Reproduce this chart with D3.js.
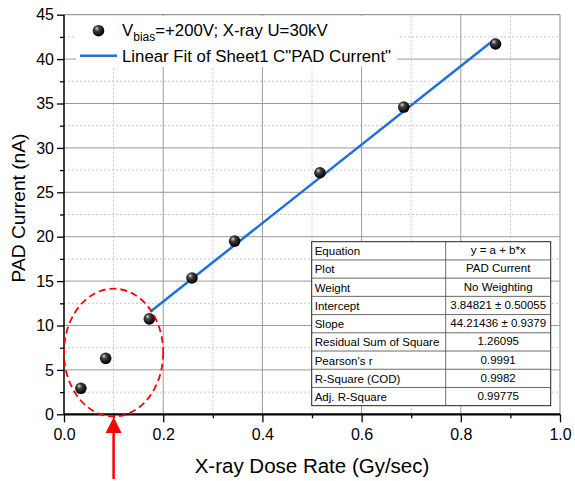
<!DOCTYPE html>
<html>
<head>
<meta charset="utf-8">
<script src="https://cdn.jsdelivr.net/npm/d3@7"></script>
<style>
  body { margin: 0; background: #fff; }
  text { font-family: "Liberation Sans", Arial, sans-serif; }
</style>
</head>
<body>
<div id="chart-area"></div>
<script>
// measured points
var doseRate = [0.034, 0.084, 0.172, 0.258, 0.344, 0.516, 0.685, 0.870]
var padCurrent = [2.93, 6.3, 10.75, 15.35, 19.5, 27.2, 34.6, 41.7]

// linear fit
var fitA = 3.84821
var fitB = 44.21436
var fitRange = [0.174, 0.869]

var xMajor = [0, 0.2, 0.4, 0.6, 0.8, 1.0]
var xMinor = [0.1, 0.3, 0.5, 0.7, 0.9]
var yMajor = [0, 5, 10, 15, 20, 25, 30, 35, 40, 45]
var yMinor = [2.5, 7.5, 12.5, 17.5, 22.5, 27.5, 32.5, 37.5, 42.5]

var tableLabels = ["Equation", "Plot", "Weight", "Intercept", "Slope",
  "Residual Sum of Square", "Pearson's r", "R-Square (COD)", "Adj. R-Square"]
var tableValues = ["y = a + b*x", "PAD Current", "No Weighting", "3.84821 \u00b1 0.50055",
  "44.21436 \u00b1 0.9379", "1.26095", "0.9991", "0.9982", "0.99775"]

var canvasWidth = 575
var canvasHeight = 481
var margin = {top: 14.7, bottom: 66.7, left: 64, right: 15}

var svg = d3.select("#chart-area")
	.append("svg")
	.attr("width", canvasWidth)
	.attr("height", canvasHeight)

var x = d3.scaleLinear()
	.domain([0, 1])
	.range([margin.left, canvasWidth - margin.right])

var y = d3.scaleLinear()
	.domain([0, 45])
	.range([canvasHeight - margin.bottom, margin.top])

// grid
var grid = svg.append("g")
grid.selectAll("line.xminor")
	.data(xMinor)
	.enter().append("line")
		.attr("x1", function(d){ return x(d) })
		.attr("x2", function(d){ return x(d) })
		.attr("y1", y(0)).attr("y2", y(45))
		.attr("stroke", "#c8c8c8")
		.attr("stroke-dasharray", "2,2")
grid.selectAll("line.yminor")
	.data(yMinor)
	.enter().append("line")
		.attr("y1", function(d){ return y(d) })
		.attr("y2", function(d){ return y(d) })
		.attr("x1", x(0)).attr("x2", x(1))
		.attr("stroke", "#c8c8c8")
		.attr("stroke-dasharray", "2,2")
grid.selectAll("line.xmajor")
	.data(xMajor.slice(1, 5))
	.enter().append("line")
		.attr("x1", function(d){ return x(d) })
		.attr("x2", function(d){ return x(d) })
		.attr("y1", y(0)).attr("y2", y(45))
		.attr("stroke", "#9a9a9a")
grid.selectAll("line.ymajor")
	.data(yMajor.slice(1, 9))
	.enter().append("line")
		.attr("y1", function(d){ return y(d) })
		.attr("y2", function(d){ return y(d) })
		.attr("x1", x(0)).attr("x2", x(1))
		.attr("stroke", "#9a9a9a")

// frame top/right
svg.append("line")
	.attr("x1", x(0)).attr("x2", x(1))
	.attr("y1", y(45)).attr("y2", y(45))
	.attr("stroke", "#9a9a9a").attr("stroke-width", 1.2)
svg.append("line")
	.attr("x1", x(1)).attr("x2", x(1))
	.attr("y1", y(0)).attr("y2", y(45))
	.attr("stroke", "#9a9a9a").attr("stroke-width", 1.2)

// legend background
svg.append("rect")
	.attr("x", 76).attr("y", 16)
	.attr("width", 321).attr("height", 51)
	.attr("fill", "#fff")

// axes
var xAxis = svg.append("g")
	.attr("transform", "translate(0," + y(0) + ")")
	.call(d3.axisBottom(x).tickValues(xMajor).tickSize(8).tickPadding(6)
		.tickFormat(d3.format(".1f")))
svg.append("g")
	.attr("transform", "translate(0," + y(0) + ")")
	.call(d3.axisBottom(x).tickValues(xMinor).tickSize(4).tickFormat(""))
	.select(".domain").remove()

var yAxis = svg.append("g")
	.attr("transform", "translate(" + x(0) + ",0)")
	.call(d3.axisLeft(y).tickValues(yMajor).tickSize(7).tickPadding(3))
svg.append("g")
	.attr("transform", "translate(" + x(0) + ",0)")
	.call(d3.axisLeft(y).tickValues(yMinor).tickSize(4).tickFormat(""))
	.select(".domain").remove()

svg.selectAll(".tick text")
	.attr("font-family", "Liberation Sans, Arial, sans-serif")
	.attr("font-size", "16px")
	.attr("fill", "#000")
svg.selectAll(".tick line").attr("stroke", "#000").attr("stroke-width", 1.3)
xAxis.select(".domain").attr("stroke", "#000").attr("stroke-width", 2.2)
	.attr("d", "M" + x(0) + ",0H" + x(1))
yAxis.select(".domain").attr("stroke", "#000").attr("stroke-width", 1.5)
	.attr("d", "M0," + y(0) + "V" + y(45))

// axis titles
svg.append("text")
	.attr("x", (x(0) + x(1)) / 2)
	.attr("y", 473)
	.attr("text-anchor", "middle")
	.attr("font-size", "20.5px")
	.text("X-ray Dose Rate (Gy/sec)")
svg.append("text")
	.attr("transform", "translate(25,208) rotate(-90)")
	.attr("text-anchor", "middle")
	.attr("font-size", "19.2px")
	.text("PAD Current (nA)")

// sphere gradient
var defs = svg.append("defs")
var grad = defs.append("radialGradient")
	.attr("id", "ball")
	.attr("cx", "40%").attr("cy", "38%").attr("r", "60%")
	.attr("fx", "35%").attr("fy", "30%")
grad.append("stop").attr("offset", "0%").attr("stop-color", "#d8d8d8")
grad.append("stop").attr("offset", "35%").attr("stop-color", "#404040")
grad.append("stop").attr("offset", "100%").attr("stop-color", "#000")

// fit line
var fitLine = d3.line()
	.x(function(d){ return x(d) })
	.y(function(d){ return y(fitA + fitB * d) })
svg.append("path")
	.datum(fitRange)
	.attr("d", fitLine)
	.attr("fill", "none")
	.attr("stroke", "#1f6fdc")
	.attr("stroke-width", 2.5)

// points
svg.selectAll("circle.pt")
	.data(doseRate)
	.enter().append("circle")
		.attr("class", "pt")
		.attr("cx", function(d){ return x(d) })
		.attr("cy", function(d, i){ return y(padCurrent[i]) })
		.attr("r", 5.8)
		.attr("fill", "url(#ball)")

// legend
svg.append("circle")
	.attr("cx", 98.5).attr("cy", 30.7).attr("r", 5.8)
	.attr("fill", "url(#ball)")
var leg1 = svg.append("text")
	.attr("x", 122).attr("y", 35.5)
	.attr("font-size", "16.8px")
leg1.append("tspan").text("V")
leg1.append("tspan").attr("font-size", "12px").attr("dy", 5).text("bias")
leg1.append("tspan").attr("dy", -5).text("=+200V; X-ray U=30kV")
svg.append("line")
	.attr("x1", 80).attr("x2", 117)
	.attr("y1", 55.7).attr("y2", 55.7)
	.attr("stroke", "#1f6fdc").attr("stroke-width", 2.5)
svg.append("text")
	.attr("x", 122).attr("y", 61.7)
	.attr("font-size", "16.8px")
	.text("Linear Fit of Sheet1 C\"PAD Current\"")

// fit table
var tab = {x: 311.7, y: 241.7, w: 239, rowH: 18.22, split: 445.7}
var table = svg.append("g")
table.append("rect")
	.attr("x", tab.x).attr("y", tab.y)
	.attr("width", tab.w).attr("height", tab.rowH * tableLabels.length)
	.attr("fill", "#fff").attr("stroke", "#222").attr("stroke-width", 1)
table.selectAll("line.row")
	.data(tableLabels.slice(1))
	.enter().append("line")
		.attr("x1", tab.x).attr("x2", tab.x + tab.w)
		.attr("y1", function(d, i){ return tab.y + tab.rowH * (i + 1) })
		.attr("y2", function(d, i){ return tab.y + tab.rowH * (i + 1) })
		.attr("stroke", "#444").attr("stroke-width", 0.8)
table.append("line")
	.attr("x1", tab.split).attr("x2", tab.split)
	.attr("y1", tab.y).attr("y2", tab.y + tab.rowH * tableLabels.length)
	.attr("stroke", "#444").attr("stroke-width", 0.8)
table.selectAll("text.lab")
	.data(tableLabels)
	.enter().append("text")
		.attr("x", tab.x + 3)
		.attr("y", function(d, i){ return tab.y + tab.rowH * i + 13.5 })
		.attr("font-size", "11.5px")
		.text(function(d){ return d })
table.selectAll("text.val")
	.data(tableValues)
	.enter().append("text")
		.attr("x", (tab.split + tab.x + tab.w) / 2)
		.attr("y", function(d, i){ return tab.y + tab.rowH * i + 12.5 })
		.attr("text-anchor", "middle")
		.attr("font-size", "11.5px")
		.text(function(d){ return d })

// red annotation
svg.append("ellipse")
	.attr("cx", x(0.1)).attr("cy", y(6.95))
	.attr("rx", x(0.1) - x(0)).attr("ry", y(0) - y(7.2))
	.attr("fill", "none")
	.attr("stroke", "#f00")
	.attr("stroke-width", 1.8)
	.attr("stroke-dasharray", "7,4")
svg.append("line")
	.attr("x1", x(0.1)).attr("x2", x(0.1))
	.attr("y1", 430).attr("y2", 479)
	.attr("stroke", "#f00").attr("stroke-width", 2.5)
svg.append("path")
	.attr("d", "M" + x(0.1) + ",417 L" + (x(0.1) - 8) + ",433 L" + (x(0.1) + 8) + ",433 Z")
	.attr("fill", "#f00")
</script>
</body>
</html>
